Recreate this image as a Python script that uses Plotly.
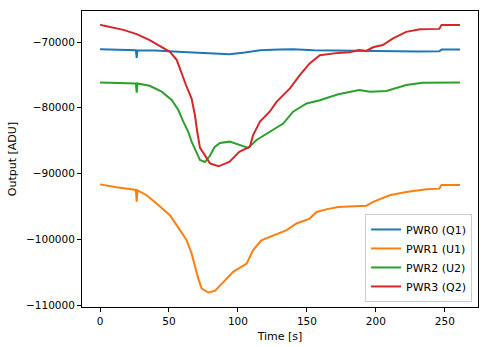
import plotly.graph_objects as go

# Detector output of the four power channels over time
t_pwr0 = [0, 10, 26, 26.6, 27.2, 40, 50.7, 60, 75, 85.7, 94, 105, 116, 130, 140,
          155, 172.5, 185, 200, 217, 230, 246, 247.6, 261]
v_pwr0 = [-71100, -71150, -71250, -72400, -71250, -71300, -71450, -71500, -71650,
          -71750, -71850, -71600, -71250, -71150, -71100, -71250, -71300, -71250,
          -71350, -71450, -71450, -71400, -71150, -71150]

t_pwr1 = [0, 12, 26, 26.6, 27.2, 33.8, 41, 50.7, 58, 62.8, 66.4, 68.8, 71.2, 73.7,
          78.5, 83.3, 87, 96.6, 106.3, 111, 117, 125.6, 135.3, 142.5, 152, 157, 164,
          172.7, 193, 198, 210, 222, 236.7, 246, 247.6, 261]
v_pwr1 = [-91650, -92100, -92500, -94300, -92550, -93300, -94550, -96350, -98600,
          -100150, -102150, -104200, -105950, -107500, -108100, -107850, -107000,
          -104950, -103700, -101650, -100150, -99400, -98600, -97600, -96850, -95850,
          -95450, -95100, -94900, -94300, -93300, -92800, -92400, -92300, -91750,
          -91750]

t_pwr2 = [0, 10, 26, 26.6, 27.2, 36, 44.7, 52, 56.8, 60.4, 64, 66.4, 70, 72.5, 76,
          79.7, 83, 87, 94, 101.4, 107.5, 113.5, 123, 132.8, 140, 149.8, 159.4,
          172.7, 188, 195.7, 207.7, 222, 234, 261]
v_pwr2 = [-76150, -76250, -76300, -77700, -76300, -76650, -77550, -78800, -80350,
          -82100, -83650, -85150, -86700, -87950, -88250, -87300, -86000, -85350,
          -85150, -85650, -86100, -84900, -83650, -82400, -80600, -79350, -78850,
          -77950, -77300, -77550, -77450, -76550, -76200, -76150]

t_pwr3 = [0, 2.4, 17, 26.6, 36, 44.7, 50.7, 55.6, 59, 62.8, 66.4, 68.8, 70.5, 72.5,
          76, 79.7, 86, 94, 101, 108.7, 111, 116, 123, 128, 137.7, 145, 152, 159.4,
          172.7, 181, 188, 193, 198, 205, 212.5, 222, 232, 246, 247.6, 261]
v_pwr3 = [-67350, -67500, -68150, -68800, -69700, -70700, -71500, -72700, -74800,
          -76800, -78600, -81100, -83650, -86100, -87200, -88450, -88900, -88200,
          -86700, -85900, -84150, -82100, -80600, -79100, -77050, -75000, -73250,
          -72000, -71650, -71550, -71200, -71350, -70800, -70450, -69450, -68450,
          -68050, -68000, -67400, -67400]

series_names = ["PWR0 (Q1)", "PWR1 (U1)", "PWR2 (U2)", "PWR3 (Q2)"]
series_colors = ["#1f77b4", "#ff7f0e", "#2ca02c", "#d62728"]

x_ticks = [0, 50, 100, 150, 200, 250]
y_ticks = [-70000, -80000, -90000, -100000, -110000]
y_tick_text = ["\u2212" + str(abs(v)) for v in y_ticks]

fig = go.Figure()
for name, color, tx, vy in zip(series_names, series_colors,
                               [t_pwr0, t_pwr1, t_pwr2, t_pwr3],
                               [v_pwr0, v_pwr1, v_pwr2, v_pwr3]):
    fig.add_trace(go.Scatter(x=tx, y=vy, mode="lines", name=name,
                             line=dict(color=color, width=2)))

axis_common = dict(showgrid=False, zeroline=False, showline=True, linecolor="black",
                   linewidth=1, mirror=True, ticks="outside", ticklen=4,
                   tickcolor="black", tickfont=dict(size=10.5, color="black"),
                   automargin=False)

fig.update_layout(
    width=489, height=347,
    margin=dict(l=82, r=11, t=11, b=40),
    paper_bgcolor="white", plot_bgcolor="white",
    font=dict(family="DejaVu Sans", size=11, color="black"),
    xaxis=dict(range=[-13.05, 274.05], tickvals=x_ticks,
               title=dict(text="Time [s]", standoff=6,
                          font=dict(size=11, color="black")), **axis_common),
    yaxis=dict(range=[-110300, -65280], tickvals=y_ticks, ticktext=y_tick_text,
               title=dict(text="Output [ADU]", standoff=7,
                          font=dict(size=11, color="black")), **axis_common),
    legend=dict(x=0.985, y=0.017, xanchor="right", yanchor="bottom",
                bgcolor="rgba(255,255,255,0.8)", bordercolor="#cccccc", borderwidth=1,
                font=dict(size=11), tracegroupgap=0, itemwidth=30),
)

fig.write_html("out.html")
